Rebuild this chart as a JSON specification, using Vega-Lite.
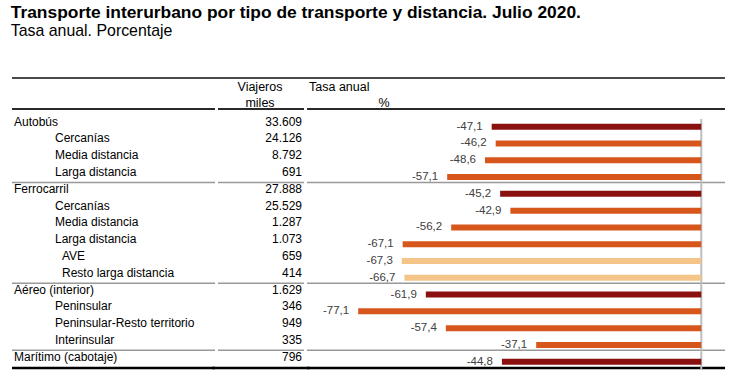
{
  "$schema": "https://vega.github.io/schema/vega-lite/v6.json",
  "background": "white",
  "padding": {"left": 10, "top": 3, "right": 23, "bottom": 8},
  "title": {
    "text": "Transporte interurbano por tipo de transporte y distancia. Julio 2020.",
    "subtitle": "Tasa anual. Porcentaje",
    "anchor": "start",
    "font": "Liberation Sans",
    "fontSize": 17.4,
    "fontWeight": "bold",
    "color": "#000000",
    "subtitleFont": "Liberation Sans",
    "subtitleFontSize": 15.9,
    "subtitleColor": "#000000",
    "subtitlePadding": 2,
    "offset": 38
  },
  "datasets": {
    "tabla": [
      {"clave": "Autobús", "concepto": "Autobús", "nivel": "total", "viajeros": 33609, "tasa": -47.1},
      {"clave": "Autobús - Cercanías", "concepto": "Cercanías", "nivel": "sub", "viajeros": 24126, "tasa": -46.2},
      {"clave": "Autobús - Media distancia", "concepto": "Media distancia", "nivel": "sub", "viajeros": 8792, "tasa": -48.6},
      {"clave": "Autobús - Larga distancia", "concepto": "Larga distancia", "nivel": "sub", "viajeros": 691, "tasa": -57.1},
      {"clave": "Ferrocarril", "concepto": "Ferrocarril", "nivel": "total", "viajeros": 27888, "tasa": -45.2},
      {"clave": "Ferrocarril - Cercanías", "concepto": "Cercanías", "nivel": "sub", "viajeros": 25529, "tasa": -42.9},
      {"clave": "Ferrocarril - Media distancia", "concepto": "Media distancia", "nivel": "sub", "viajeros": 1287, "tasa": -56.2},
      {"clave": "Ferrocarril - Larga distancia", "concepto": "Larga distancia", "nivel": "sub", "viajeros": 1073, "tasa": -67.1},
      {"clave": "Ferrocarril - AVE", "concepto": "AVE", "nivel": "subsub", "viajeros": 659, "tasa": -67.3},
      {"clave": "Ferrocarril - Resto larga distancia", "concepto": "Resto larga distancia", "nivel": "subsub", "viajeros": 414, "tasa": -66.7},
      {"clave": "Aéreo (interior)", "concepto": "Aéreo (interior)", "nivel": "total", "viajeros": 1629, "tasa": -61.9},
      {"clave": "Aéreo - Peninsular", "concepto": "Peninsular", "nivel": "sub", "viajeros": 346, "tasa": -77.1},
      {"clave": "Aéreo - Peninsular-Resto territorio", "concepto": "Peninsular-Resto territorio", "nivel": "sub", "viajeros": 949, "tasa": -57.4},
      {"clave": "Aéreo - Interinsular", "concepto": "Interinsular", "nivel": "sub", "viajeros": 335, "tasa": -37.1},
      {"clave": "Marítimo (cabotaje)", "concepto": "Marítimo (cabotaje)", "nivel": "total", "viajeros": 796, "tasa": -44.8}
    ],
    "uno": [{}]
  },
  "bounds": "flush",
  "spacing": 3,
  "hconcat": [
    {
      "width": 203,
      "height": 290,
      "data": {"name": "tabla"},
      "encoding": {
        "y": {"field": "clave", "type": "nominal", "axis": null,
              "scale": {"domain": ["Autobús", "Autobús - Cercanías", "Autobús - Media distancia", "Autobús - Larga distancia", "Ferrocarril", "Ferrocarril - Cercanías", "Ferrocarril - Media distancia", "Ferrocarril - Larga distancia", "Ferrocarril - AVE", "Ferrocarril - Resto larga distancia", "Aéreo (interior)", "Aéreo - Peninsular", "Aéreo - Peninsular-Resto territorio", "Aéreo - Interinsular", "Marítimo (cabotaje)"],
                        "range": [40.3, 292.1], "paddingInner": 0, "paddingOuter": 0}}
      },
      "layer": [
        {"data": {"name": "uno"}, "mark": {"type": "rule", "color": "#4a4a4a", "strokeWidth": 2}, "encoding": {"y": {"value": 0}}},
        {"data": {"name": "uno"}, "mark": {"type": "rule", "color": "#2a2a2a", "strokeWidth": 2}, "encoding": {"y": {"value": 31}}},
        {"transform": [{"filter": "datum.nivel == 'total' && datum.clave != 'Autobús'"}],
         "mark": {"type": "rule", "color": "#999999", "strokeWidth": 1.5, "yOffset": -3},
         "encoding": {"y": {"field": "clave", "type": "nominal", "bandPosition": 0}}},
        {"data": {"name": "uno"}, "mark": {"type": "rule", "color": "#000000", "strokeWidth": 2.5}, "encoding": {"y": {"value": 290}}},
        {"transform": [{"filter": "datum.nivel == 'total'"}],
         "mark": {"type": "text", "align": "left", "baseline": "middle", "dy": -5, "font": "Liberation Sans", "fontSize": 12, "color": "#000000"},
         "encoding": {"x": {"value": 2}, "text": {"field": "concepto"}}},
        {"transform": [{"filter": "datum.nivel == 'sub'"}],
         "mark": {"type": "text", "align": "left", "baseline": "middle", "dy": -5, "font": "Liberation Sans", "fontSize": 12, "color": "#000000"},
         "encoding": {"x": {"value": 43}, "text": {"field": "concepto"}}},
        {"transform": [{"filter": "datum.nivel == 'subsub'"}],
         "mark": {"type": "text", "align": "left", "baseline": "middle", "dy": -5, "font": "Liberation Sans", "fontSize": 12, "color": "#000000"},
         "encoding": {"x": {"value": 50}, "text": {"field": "concepto"}}}
      ]
    },
    {
      "width": 86,
      "height": 290,
      "data": {"name": "tabla"},
      "encoding": {
        "y": {"field": "clave", "type": "nominal", "axis": null,
              "scale": {"domain": ["Autobús", "Autobús - Cercanías", "Autobús - Media distancia", "Autobús - Larga distancia", "Ferrocarril", "Ferrocarril - Cercanías", "Ferrocarril - Media distancia", "Ferrocarril - Larga distancia", "Ferrocarril - AVE", "Ferrocarril - Resto larga distancia", "Aéreo (interior)", "Aéreo - Peninsular", "Aéreo - Peninsular-Resto territorio", "Aéreo - Interinsular", "Marítimo (cabotaje)"],
                        "range": [40.3, 292.1], "paddingInner": 0, "paddingOuter": 0}}
      },
      "layer": [
        {"data": {"name": "uno"}, "mark": {"type": "rule", "color": "#4a4a4a", "strokeWidth": 2}, "encoding": {"x": {"value": -6}, "x2": {"value": 92}, "y": {"value": 0}}},
        {"data": {"name": "uno"}, "mark": {"type": "rule", "color": "#2a2a2a", "strokeWidth": 2}, "encoding": {"y": {"value": 31}}},
        {"transform": [{"filter": "datum.nivel == 'total' && datum.clave != 'Autobús'"}],
         "mark": {"type": "rule", "color": "#999999", "strokeWidth": 1.5, "yOffset": -3},
         "encoding": {"y": {"field": "clave", "type": "nominal", "bandPosition": 0}}},
        {"data": {"name": "uno"}, "mark": {"type": "rule", "color": "#000000", "strokeWidth": 2.5}, "encoding": {"x": {"value": -6}, "x2": {"value": 92}, "y": {"value": 290}}},
        {"data": {"name": "uno"}, "mark": {"type": "text", "text": "Viajeros", "align": "center", "baseline": "middle", "font": "Liberation Sans", "fontSize": 12.5, "color": "#000000"},
         "encoding": {"x": {"value": 42}, "y": {"value": 8.5}}},
        {"data": {"name": "uno"}, "mark": {"type": "text", "text": "miles", "align": "center", "baseline": "middle", "font": "Liberation Sans", "fontSize": 12.5, "color": "#000000"},
         "encoding": {"x": {"value": 42}, "y": {"value": 24.5}}},
        {"mark": {"type": "text", "align": "right", "baseline": "middle", "dy": -5, "font": "Liberation Sans", "fontSize": 12, "color": "#000000"},
         "encoding": {"x": {"value": 84}, "text": {"field": "viajeros", "type": "quantitative", "format": ",d"}}}
      ]
    },
    {
      "width": 418,
      "height": 290,
      "data": {"name": "tabla"},
      "encoding": {
        "y": {"field": "clave", "type": "nominal", "axis": null,
              "scale": {"domain": ["Autobús", "Autobús - Cercanías", "Autobús - Media distancia", "Autobús - Larga distancia", "Ferrocarril", "Ferrocarril - Cercanías", "Ferrocarril - Media distancia", "Ferrocarril - Larga distancia", "Ferrocarril - AVE", "Ferrocarril - Resto larga distancia", "Aéreo (interior)", "Aéreo - Peninsular", "Aéreo - Peninsular-Resto territorio", "Aéreo - Interinsular", "Marítimo (cabotaje)"],
                        "range": [40.3, 292.1], "paddingInner": 0, "paddingOuter": 0}}
      },
      "layer": [
        {"data": {"name": "uno"}, "mark": {"type": "rule", "color": "#4a4a4a", "strokeWidth": 2}, "encoding": {"y": {"value": 0}}},
        {"data": {"name": "uno"}, "mark": {"type": "rule", "color": "#2a2a2a", "strokeWidth": 2}, "encoding": {"y": {"value": 31}}},
        {"transform": [{"filter": "datum.nivel == 'total' && datum.clave != 'Autobús'"}],
         "mark": {"type": "rule", "color": "#999999", "strokeWidth": 1.5, "yOffset": -3},
         "encoding": {"y": {"field": "clave", "type": "nominal", "bandPosition": 0}}},
        {"data": {"name": "uno"}, "mark": {"type": "rule", "color": "#000000", "strokeWidth": 2.5}, "encoding": {"y": {"value": 290}}},
        {"data": {"name": "uno"}, "mark": {"type": "text", "text": "Tasa anual", "align": "left", "baseline": "middle", "font": "Liberation Sans", "fontSize": 12.5, "color": "#000000"},
         "encoding": {"x": {"value": 2}, "y": {"value": 8.5}}},
        {"data": {"name": "uno"}, "mark": {"type": "text", "text": "%", "align": "center", "baseline": "middle", "font": "Liberation Sans", "fontSize": 12.5, "color": "#000000"},
         "encoding": {"x": {"value": 77}, "y": {"value": 24.5}}},
        {"data": {"name": "uno"}, "mark": {"type": "rule", "color": "#bdbdbd", "strokeWidth": 2},
         "encoding": {"x": {"datum": 0, "type": "quantitative", "scale": {"domain": [-88.6, 5.33], "nice": false, "zero": false}, "axis": null},
                      "y": {"value": 41}, "y2": {"value": 291}}},
        {"mark": {"type": "bar", "height": 6},
         "encoding": {
           "x": {"field": "tasa", "type": "quantitative", "scale": {"domain": [-88.6, 5.33], "nice": false, "zero": false}, "axis": null},
           "color": {"field": "nivel", "type": "nominal", "legend": null,
                     "scale": {"domain": ["total", "sub", "subsub"], "range": ["#8b1010", "#d6561c", "#f4c489"]}}
         }},
        {"mark": {"type": "text", "align": "right", "baseline": "middle", "dx": -9, "font": "Liberation Sans", "fontSize": 11.5, "color": "#404040"},
         "encoding": {
           "x": {"field": "tasa", "type": "quantitative", "scale": {"domain": [-88.6, 5.33], "nice": false, "zero": false}, "axis": null},
           "text": {"field": "tasa", "type": "quantitative", "format": ".1f"}
         }}
      ]
    }
  ],
  "config": {
    "view": {"stroke": null},
    "locale": {
      "number": {"decimal": ",", "thousands": ".", "grouping": [3], "currency": ["", " €"], "minus": "-"}
    }
  }
}
